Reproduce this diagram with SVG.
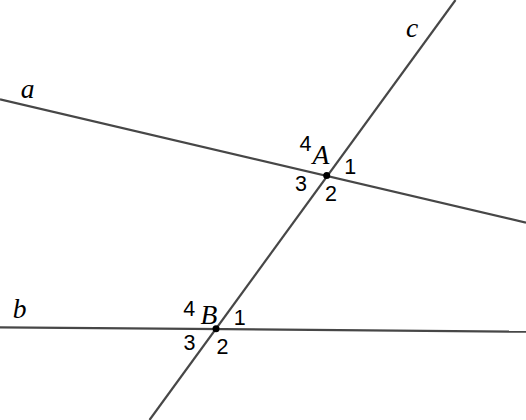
<svg xmlns="http://www.w3.org/2000/svg" width="526" height="420" viewBox="0 0 526 420">
<style>
.ln{stroke:#474747;stroke-width:2.2;fill:none;stroke-linecap:butt}
.lbl{font-family:"Liberation Serif","Times New Roman",serif;font-style:italic;font-size:27.5px;fill:#000;text-anchor:middle}
.num{font-family:"Liberation Sans",Arial,sans-serif;font-size:21.5px;fill:#000;text-anchor:middle}
.pt{fill:#000}
</style>
<rect width="526" height="420" fill="#fff"/>
<g id="lines">
<line id="line-a" class="ln" x1="0" y1="99.3" x2="526" y2="222.7"/>
<line id="line-b" class="ln" x1="0" y1="327.3" x2="526" y2="331.7"/>
<line id="line-c" class="ln" x1="455.5" y1="0" x2="149.5" y2="420"/>
</g>
<g id="line-labels">
<text class="lbl" x="27.6" y="98">a</text>
<text class="lbl" x="19.5" y="318">b</text>
<text class="lbl" x="412" y="36.5">c</text>
</g>
<g id="point-A">
<circle class="pt" cx="326.7" cy="175.5" r="3.5"/>
<text class="lbl" x="321" y="164">A</text>
<text class="num" x="305.5" y="150.7">4</text>
<text class="num" x="350.3" y="174">1</text>
<text class="num" x="301" y="190.7">3</text>
<text class="num" x="331" y="201">2</text>
</g>
<g id="point-B">
<circle class="pt" cx="216" cy="328.8" r="3.5"/>
<text class="lbl" x="209" y="324">B</text>
<text class="num" x="189.3" y="316">4</text>
<text class="num" x="239.8" y="325">1</text>
<text class="num" x="189.5" y="349.5">3</text>
<text class="num" x="222.5" y="354">2</text>
</g>
</svg>
